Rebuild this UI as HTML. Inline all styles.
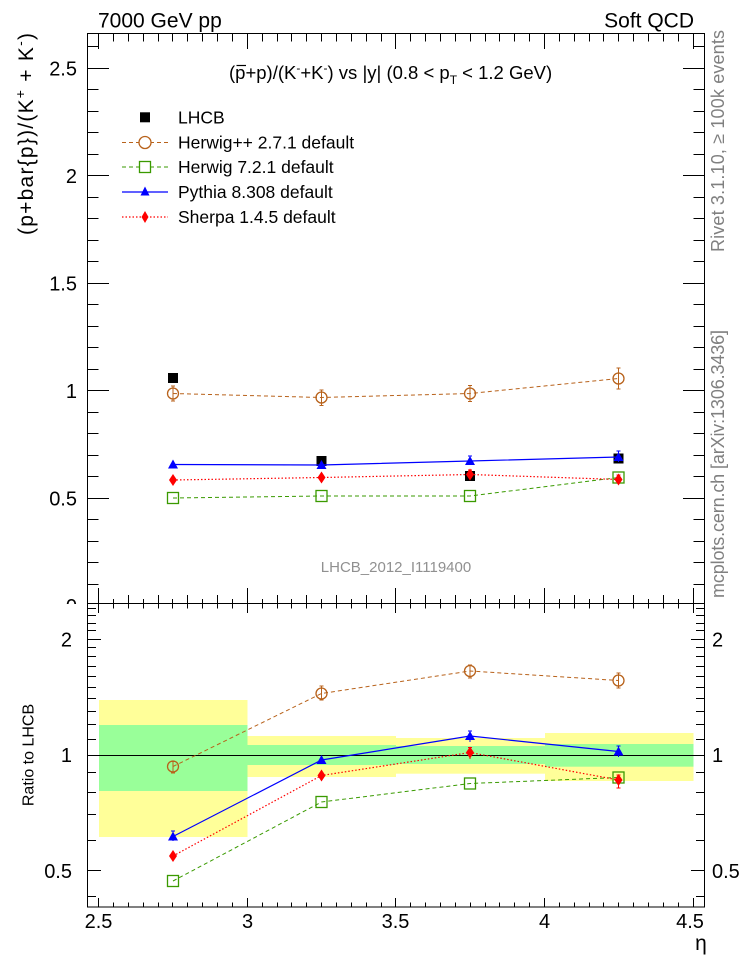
<!DOCTYPE html>
<html><head><meta charset="utf-8"><style>
html,body{margin:0;padding:0;background:#fff;}
svg{display:block;font-family:"Liberation Sans",Arial,sans-serif;}
</style></head><body>
<svg width="746" height="972" viewBox="0 0 746 972" xmlns="http://www.w3.org/2000/svg">
<rect width="746" height="972" fill="#fff"/>
<!-- top texts -->
<text x="98" y="27.5" font-size="21">7000 GeV pp</text>
<text x="694" y="27.5" font-size="21" text-anchor="end">Soft QCD</text>
<!-- title -->
<text x="229" y="79" font-size="18.5">(p+p)/(K<tspan dy="-7" font-size="12">-</tspan><tspan dy="7">+K</tspan><tspan dy="-7" font-size="12">-</tspan><tspan dy="7">) vs |y| (0.8 &lt; p</tspan><tspan dy="5" font-size="12">T</tspan><tspan dy="-5"> &lt; 1.2 GeV)</tspan></text>
<path d="M236.5 65.5h9.5" stroke="#000" stroke-width="1.2"/>
<!-- y axis label -->
<text transform="translate(33,134) rotate(-90)" text-anchor="middle" font-size="21" textLength="202" lengthAdjust="spacing">(p+bar{p})/(K<tspan dy="-8" font-size="14">+</tspan><tspan dy="8"> + K</tspan><tspan dy="-8" font-size="14">-</tspan><tspan dy="8">)</tspan></text>
<!-- right side texts -->
<text transform="translate(724,252) rotate(-90)" font-size="18" fill="#808080" textLength="222" lengthAdjust="spacing">Rivet 3.1.10, ≥ 100k events</text>
<text transform="translate(724,598) rotate(-90)" font-size="18" fill="#808080" textLength="268" lengthAdjust="spacing">mcplots.cern.ch [arXiv:1306.3436]</text>

<!-- legend -->
<rect x="140" y="112.3" width="10" height="10" fill="#000"/>
<text x="178" y="123.5" font-size="17.5">LHCB</text>
<path d="M122 142.5H168" stroke="#b8621b" stroke-width="1" stroke-dasharray="4 3" fill="none"/>
<circle cx="145" cy="142.5" r="6" fill="#fff" stroke="#b8621b" stroke-width="1.3"/>
<text x="178" y="148.5" font-size="17.5">Herwig++ 2.7.1 default</text>
<path d="M122 167H168" stroke="#3a9a00" stroke-width="1" stroke-dasharray="4 3" fill="none"/>
<rect x="139.5" y="161.5" width="11" height="11" fill="#fff" stroke="#3a9a00" stroke-width="1.3"/>
<text x="178" y="173" font-size="17.5">Herwig 7.2.1 default</text>
<path d="M122 192H168" stroke="#0000ff" stroke-width="1.2" fill="none"/>
<polygon points="145,186.5 140.5,195.5 149.5,195.5" fill="#0000ff"/>
<text x="178" y="198" font-size="17.5">Pythia 8.308 default</text>
<path d="M122 217H168" stroke="#ff0000" stroke-width="1.2" stroke-dasharray="1.5 2" fill="none"/>
<polygon points="145,211 148.5,217 145,223 141.5,217" fill="#ff0000"/>
<text x="178" y="223" font-size="17.5">Sherpa 1.4.5 default</text>

<!-- main data: LHCB -->
<g fill="#000">
<rect x="168" y="373" width="10" height="10"/>
<rect x="316.5" y="456" width="10" height="10"/>
<rect x="465" y="471" width="10" height="10"/>
<rect x="613.5" y="453.5" width="10" height="10"/>
</g>
<!-- Herwig++ main -->
<polyline points="173,393.5 321.5,397.5 470,393.5 618.5,378.5" fill="none" stroke="#b8621b" stroke-width="1" stroke-dasharray="4 3"/>
<path d="M173 386v15M171 386h4M171 401h4M321.5 390v15.5M319.5 390h4M319.5 405.5h4M470 385.5v16M468 385.5h4M468 401.5h4M618.5 368v21M616.5 368h4M616.5 389h4" stroke="#b8621b" stroke-width="1" fill="none"/>
<g fill="none" stroke="#b8621b" stroke-width="1.3">
<circle cx="173" cy="393.5" r="5.5"/><circle cx="321.5" cy="397.5" r="5.5"/><circle cx="470" cy="393.5" r="5.5"/><circle cx="618.5" cy="378.5" r="5.5"/>
</g>
<!-- Herwig7 main -->
<polyline points="173,498 321.5,496 470,496 618.5,477.5" fill="none" stroke="#3a9a00" stroke-width="1" stroke-dasharray="4 3"/>
<g fill="none" stroke="#3a9a00" stroke-width="1.3">
<rect x="167.5" y="492.5" width="11" height="11"/><rect x="316" y="490.5" width="11" height="11"/><rect x="464.5" y="490.5" width="11" height="11"/><rect x="613" y="472" width="11" height="11"/>
</g>
<!-- Pythia main -->
<polyline points="173,464.5 321.5,465 470,461 618.5,457" fill="none" stroke="#0000ff" stroke-width="1.2"/>
<path d="M470 456v9M468 456h4M618.5 451v11M616.5 451h4" stroke="#0000ff" stroke-width="1" fill="none"/>
<g fill="#0000ff">
<polygon points="173,459.5 168,468.5 178,468.5"/><polygon points="321.5,460 316.5,469 326.5,469"/><polygon points="470,456 465,465 475,465"/><polygon points="618.5,452 613.5,461 623.5,461"/>
</g>
<!-- Sherpa main -->
<polyline points="173,480 321.5,477.5 470,474.5 618.5,479.5" fill="none" stroke="#ff0000" stroke-width="1.2" stroke-dasharray="1.5 2"/>
<path d="M470 470v8.5M468 470h4M618.5 475v9M616.5 475h4" stroke="#ff0000" stroke-width="1" fill="none"/>
<g fill="#ff0000">
<polygon points="173,474 177,480 173,486 169,480"/><polygon points="321.5,471.5 325.5,477.5 321.5,483.5 317.5,477.5"/><polygon points="470,468.5 474,474.5 470,480.5 466,474.5"/><polygon points="618.5,473.5 622.5,479.5 618.5,485.5 614.5,479.5"/>
</g>

<text x="396" y="572" font-size="15" fill="#909090" text-anchor="middle">LHCB_2012_I1119400</text>

<!-- main y labels -->
<g font-size="20" text-anchor="end">
<text x="77" y="75.5">2.5</text>
<text x="77" y="183">2</text>
<text x="77" y="290.5">1.5</text>
<text x="77" y="398">1</text>
<text x="77" y="505.5">0.5</text>
<text x="77" y="613">0</text>
</g>

<!-- main frame & ticks -->
<g stroke="#000" stroke-width="1" fill="none">
<rect x="87.5" y="33.5" width="617" height="570"/>
<path d="M98.5 34v15M247.5 34v15M395.5 34v15M544.5 34v15M693.5 34v15
M113.5 34v7.5M128.5 34v7.5M143.5 34v7.5M158.5 34v7.5M172.5 34v7.5M187.5 34v7.5M202.5 34v7.5M217.5 34v7.5M232.5 34v7.5
M262.5 34v7.5M277.5 34v7.5M291.5 34v7.5M306.5 34v7.5M321.5 34v7.5M336.5 34v7.5M351.5 34v7.5M366.5 34v7.5M381.5 34v7.5
M410.5 34v7.5M425.5 34v7.5M440.5 34v7.5M455.5 34v7.5M470.5 34v7.5M485.5 34v7.5M499.5 34v7.5M514.5 34v7.5M529.5 34v7.5
M559.5 34v7.5M574.5 34v7.5M589.5 34v7.5M603.5 34v7.5M618.5 34v7.5M633.5 34v7.5M648.5 34v7.5M663.5 34v7.5M678.5 34v7.5"/>
<path d="M98.5 603v-15M247.5 603v-15M395.5 603v-15M544.5 603v-15M693.5 603v-15
M128.5 603v-8M158.5 603v-8M187.5 603v-8M217.5 603v-8M277.5 603v-8M306.5 603v-8M336.5 603v-8M366.5 603v-8M425.5 603v-8M455.5 603v-8M485.5 603v-8M514.5 603v-8M574.5 603v-8M603.5 603v-8M633.5 603v-8M663.5 603v-8
M113.5 603v-4M143.5 603v-4M172.5 603v-4M202.5 603v-4M232.5 603v-4M262.5 603v-4M291.5 603v-4M321.5 603v-4M351.5 603v-4M381.5 603v-4M410.5 603v-4M440.5 603v-4M470.5 603v-4M499.5 603v-4M529.5 603v-4M559.5 603v-4M589.5 603v-4M618.5 603v-4M648.5 603v-4M678.5 603v-4"/>
<path d="M88 68.5h21M88 175.5h21M88 283.5h21M88 390.5h21M88 498.5h21
M88 46.5h10.5M88 89.5h10.5M88 111.5h10.5M88 132.5h10.5M88 154.5h10.5M88 197.5h10.5M88 218.5h10.5M88 240.5h10.5M88 261.5h10.5M88 304.5h10.5M88 326.5h10.5M88 347.5h10.5M88 369.5h10.5M88 412.5h10.5M88 433.5h10.5M88 455.5h10.5M88 476.5h10.5M88 519.5h10.5M88 541.5h10.5M88 562.5h10.5M88 584.5h10.5"/>
<path d="M704 68.5h-21M704 175.5h-21M704 283.5h-21M704 390.5h-21M704 498.5h-21
M704 46.5h-10.5M704 89.5h-10.5M704 111.5h-10.5M704 132.5h-10.5M704 154.5h-10.5M704 197.5h-10.5M704 218.5h-10.5M704 240.5h-10.5M704 261.5h-10.5M704 304.5h-10.5M704 326.5h-10.5M704 347.5h-10.5M704 369.5h-10.5M704 412.5h-10.5M704 433.5h-10.5M704 455.5h-10.5M704 476.5h-10.5M704 519.5h-10.5M704 541.5h-10.5M704 562.5h-10.5M704 584.5h-10.5"/>
</g>

<!-- ratio panel background -->
<rect x="0" y="604" width="746" height="368" fill="#fff"/>

<!-- bands -->
<rect x="99" y="700" width="148.5" height="137" fill="#ffff99"/>
<rect x="99" y="725" width="148.5" height="66" fill="#99ff99"/>
<rect x="247.5" y="736" width="148.5" height="41" fill="#ffff99"/>
<rect x="247.5" y="745" width="148.5" height="20" fill="#99ff99"/>
<rect x="396" y="738" width="149" height="35.7" fill="#ffff99"/>
<rect x="396" y="746" width="149" height="18" fill="#99ff99"/>
<rect x="545" y="733" width="148.5" height="48" fill="#ffff99"/>
<rect x="545" y="744" width="148.5" height="22.7" fill="#99ff99"/>

<path d="M88 755.5H704" stroke="#000" stroke-width="1"/>

<!-- ratio series -->
<polyline points="173,766.5 321.5,693.5 470,671 618.5,680.5" fill="none" stroke="#b8621b" stroke-width="1" stroke-dasharray="4 3"/>
<path d="M173 761.5v11.5M171 761.5h4M171 773h4M321.5 686v14M319.5 686h4M319.5 700h4M470 665v13M468 665h4M468 678h4M618.5 673v15M616.5 673h4M616.5 688h4" stroke="#b8621b" stroke-width="1" fill="none"/>
<g fill="none" stroke="#b8621b" stroke-width="1.3">
<circle cx="173" cy="766.5" r="5.5"/><circle cx="321.5" cy="693.5" r="5.5"/><circle cx="470" cy="671" r="5.5"/><circle cx="618.5" cy="680.5" r="5.5"/>
</g>
<polyline points="173,881 321.5,802 470,783.5 618.5,777.5" fill="none" stroke="#3a9a00" stroke-width="1" stroke-dasharray="4 3"/>
<g fill="none" stroke="#3a9a00" stroke-width="1.3">
<rect x="167.5" y="875.5" width="11" height="11"/><rect x="316" y="796.5" width="11" height="11"/><rect x="464.5" y="778" width="11" height="11"/><rect x="613" y="772" width="11" height="11"/>
</g>
<polyline points="173,836.5 321.5,760 470,736 618.5,751.5" fill="none" stroke="#0000ff" stroke-width="1.2"/>
<path d="M173 831v10M171 831h4M470 731v11M468 731h4M618.5 746v11M616.5 746h4" stroke="#0000ff" stroke-width="1" fill="none"/>
<g fill="#0000ff">
<polygon points="173,831.5 168,840.5 178,840.5"/><polygon points="321.5,755 316.5,764 326.5,764"/><polygon points="470,731 465,740 475,740"/><polygon points="618.5,746.5 613.5,755.5 623.5,755.5"/>
</g>
<polyline points="173,856 321.5,775.5 470,752.5 618.5,780" fill="none" stroke="#ff0000" stroke-width="1.2" stroke-dasharray="1.5 2"/>
<path d="M173 851v10M321.5 770v11M470 747.5v11.5M468 747.5h4M618.5 775v13M616.5 775h4M616.5 788h4" stroke="#ff0000" stroke-width="1" fill="none"/>
<g fill="#ff0000">
<polygon points="173,850 177,856 173,862 169,856"/><polygon points="321.5,769.5 325.5,775.5 321.5,781.5 317.5,775.5"/><polygon points="470,746.5 474,752.5 470,758.5 466,752.5"/><polygon points="618.5,774 622.5,780 618.5,786 614.5,780"/>
</g>

<!-- ratio frame & ticks -->
<g stroke="#000" stroke-width="1" fill="none">
<rect x="87.5" y="603.5" width="617" height="303.5"/>
<path d="M98.5 604v9M247.5 604v9M395.5 604v9M544.5 604v9M693.5 604v9
M113.5 604v4.5M128.5 604v4.5M143.5 604v4.5M158.5 604v4.5M172.5 604v4.5M187.5 604v4.5M202.5 604v4.5M217.5 604v4.5M232.5 604v4.5
M262.5 604v4.5M277.5 604v4.5M291.5 604v4.5M306.5 604v4.5M321.5 604v4.5M336.5 604v4.5M351.5 604v4.5M366.5 604v4.5M381.5 604v4.5
M410.5 604v4.5M425.5 604v4.5M440.5 604v4.5M455.5 604v4.5M470.5 604v4.5M485.5 604v4.5M499.5 604v4.5M514.5 604v4.5M529.5 604v4.5
M559.5 604v4.5M574.5 604v4.5M589.5 604v4.5M603.5 604v4.5M618.5 604v4.5M633.5 604v4.5M648.5 604v4.5M663.5 604v4.5M678.5 604v4.5"/>
<path d="M98.5 907v-9M247.5 907v-9M395.5 907v-9M544.5 907v-9M693.5 907v-9
M113.5 907v-4.5M128.5 907v-4.5M143.5 907v-4.5M158.5 907v-4.5M172.5 907v-4.5M187.5 907v-4.5M202.5 907v-4.5M217.5 907v-4.5M232.5 907v-4.5
M262.5 907v-4.5M277.5 907v-4.5M291.5 907v-4.5M306.5 907v-4.5M321.5 907v-4.5M336.5 907v-4.5M351.5 907v-4.5M366.5 907v-4.5M381.5 907v-4.5
M410.5 907v-4.5M425.5 907v-4.5M440.5 907v-4.5M455.5 907v-4.5M470.5 907v-4.5M485.5 907v-4.5M499.5 907v-4.5M514.5 907v-4.5M529.5 907v-4.5
M559.5 907v-4.5M574.5 907v-4.5M589.5 907v-4.5M603.5 907v-4.5M618.5 907v-4.5M633.5 907v-4.5M648.5 907v-4.5M663.5 907v-4.5M678.5 907v-4.5"/>
<path d="M88 639.5h13M88 755.5h13M88 870.5h13
M88 608.5h8M88 615.5h8M88 623.5h8M88 630.5h8M88 647.5h8M88 656.5h8M88 666.5h8M88 676.5h8M88 687.5h8M88 698.5h8M88 711.5h8M88 724.5h8M88 739.5h8M88 772.5h8M88 792.5h8M88 814.5h8M88 840.5h8M88 896.5h8"/>
<path d="M704 639.5h-13M704 755.5h-13M704 870.5h-13
M704 608.5h-8M704 615.5h-8M704 623.5h-8M704 630.5h-8M704 647.5h-8M704 656.5h-8M704 666.5h-8M704 676.5h-8M704 687.5h-8M704 698.5h-8M704 711.5h-8M704 724.5h-8M704 739.5h-8M704 772.5h-8M704 792.5h-8M704 814.5h-8M704 840.5h-8M704 896.5h-8"/>
</g>

<!-- ratio labels -->
<g font-size="20">
<text x="72" y="646.3" text-anchor="end">2</text>
<text x="72" y="762.2" text-anchor="end">1</text>
<text x="72" y="878.1" text-anchor="end">0.5</text>
<text x="712" y="646.3">2</text>
<text x="712" y="762.2">1</text>
<text x="712" y="878.1">0.5</text>
</g>
<text transform="translate(33.5,755) rotate(-90)" text-anchor="middle" font-size="16">Ratio to LHCB</text>

<!-- x labels -->
<g font-size="20" text-anchor="middle">
<text x="98.5" y="928">2.5</text>
<text x="247.5" y="928">3</text>
<text x="395.5" y="928">3.5</text>
<text x="544.5" y="928">4</text>
<text x="690" y="928">4.5</text>
</g>
<text x="701" y="950" font-size="21" text-anchor="middle">η</text>
</svg>
</body></html>
